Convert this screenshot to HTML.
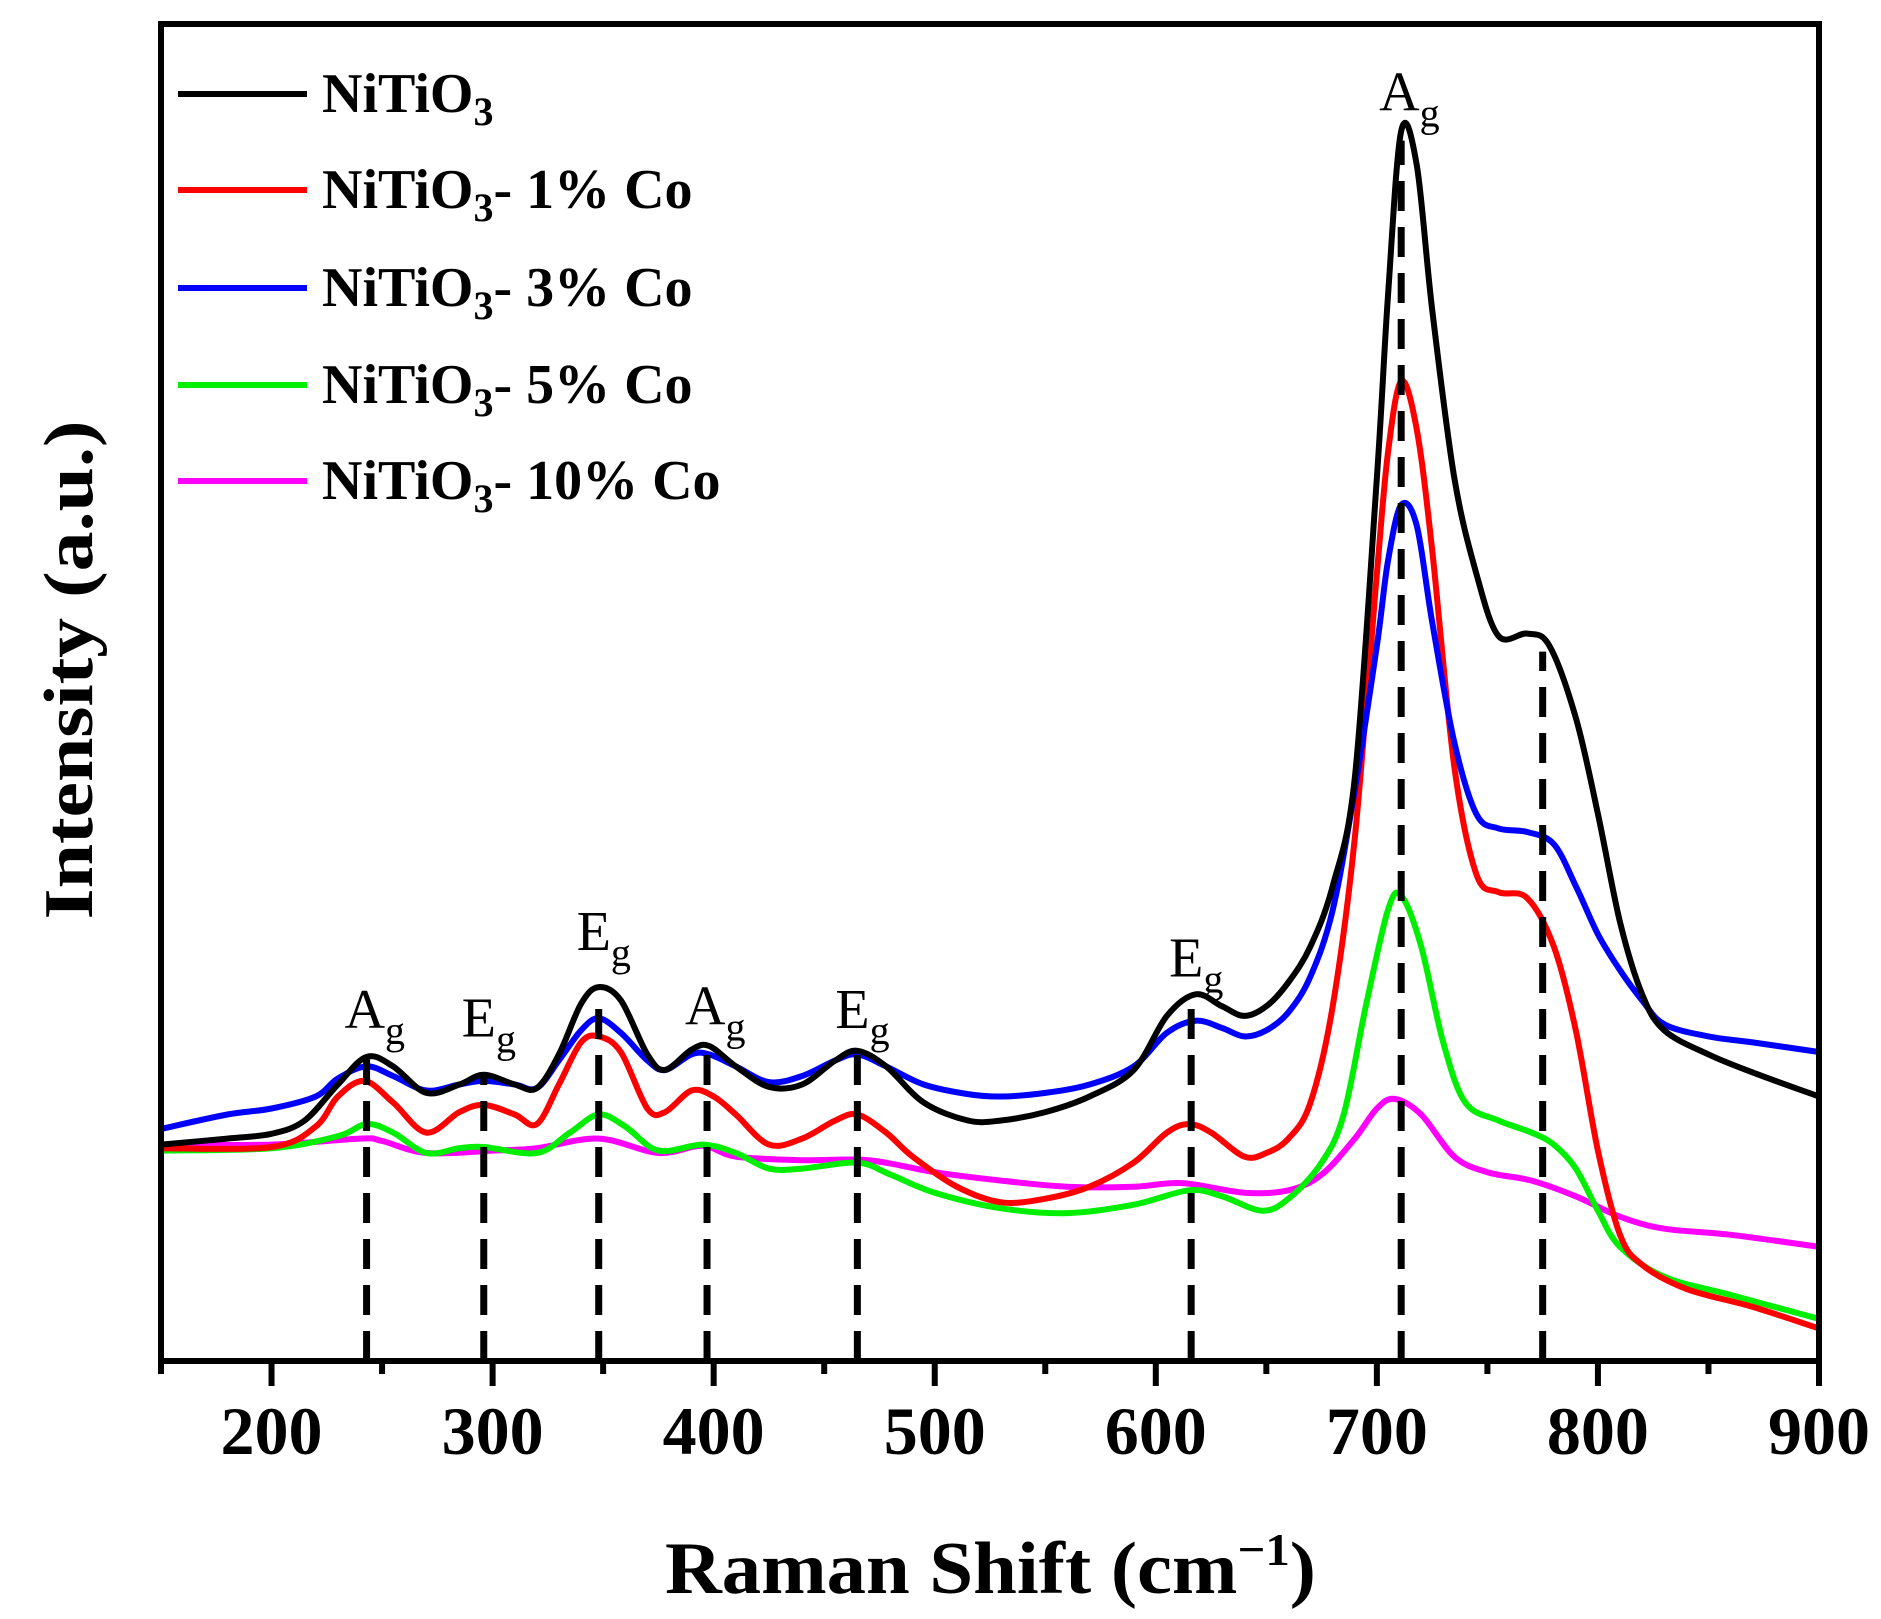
<!DOCTYPE html>
<html><head><meta charset="utf-8"><style>
html,body{margin:0;padding:0;background:#fff}
svg{display:block}
text{font-family:"Liberation Serif",serif}
</style></head><body>
<svg id="chart" width="1881" height="1619" viewBox="0 0 1881 1619" xmlns="http://www.w3.org/2000/svg">
<g id="series"></g>
<g id="dashes"></g>
<g id="axes"></g>
<g id="legend"></g>
</svg>
<script>
const xTicks=[200,300,400,500,600,700,800,900];
const xMinor=[250,350,450,550,650,750,850];
const blackX=[150,180,200,215,230,243,255,270,285,296,310,320,330,340,348,358,370,378,390,398,410,425,440,455,465,478,495,515,530,550,570,590,605,618,630,640,650,660,670,680,690,700,705,711,718,725,735,745,755,768,778,790,800,810,820,830,850,870,900];
const blackY=[180,185,189,200,230,253,245,223,230,238,230,227,255,297,311,300,255,242,259,262,245,228,230,250,258,245,215,200,200,207,220,242,287,305,295,287,295,315,345,395,485,735,885,1023,995,875,735,655,603,605,595,535,455,365,305,275,255,240,220];
const redX=[150,200,220,230,242,255,270,285,296,310,320,330,340,348,358,370,378,390,400,410,425,440,455,465,478,490,510,530,550,570,590,605,615,625,640,650,660,670,680,690,700,705,711,718,725,735,745,755,768,780,790,800,810,820,840,870,900];
const redY=[177,178,195,220,233,215,190,207,213,205,197,230,265,270,257,210,207,225,220,205,180,185,200,205,190,170,145,132,135,145,165,190,197,190,170,173,185,215,295,435,655,755,815,775,675,495,405,390,385,345,275,175,105,80,60,45,27];
const blueX=[150,180,200,220,230,243,255,270,285,296,310,320,330,340,348,358,370,378,390,398,410,425,440,455,465,478,495,515,530,550,570,590,605,618,630,640,650,660,670,680,690,700,705,711,718,725,735,745,755,768,780,790,800,810,820,830,850,870,900];
const blueY=[193,205,210,220,235,245,237,225,230,233,230,227,250,275,285,273,250,242,255,255,245,232,237,250,255,245,230,222,220,223,230,245,273,283,277,270,275,290,320,375,475,595,665,712,695,615,515,455,443,440,430,395,355,325,300,280,270,265,257];
const greenX=[150,200,230,243,255,270,285,296,320,335,348,360,375,395,410,425,440,465,480,500,530,560,590,615,630,648,660,675,685,695,705,711,720,730,740,755,770,780,790,800,810,830,860,900];
const greenY=[175,177,187,197,190,173,177,178,173,190,205,195,175,180,173,160,160,165,155,140,127,123,130,142,137,125,135,165,205,295,375,387,345,265,215,200,190,180,160,125,95,70,55,35];
const magentaX=[150,200,240,250,270,300,320,348,375,395,410,440,470,500,530,560,590,612,640,660,675,690,700,708,720,735,750,770,790,810,830,860,900];
const magentaY=[180,180,185,183,173,175,177,185,173,179,170,167,167,157,150,145,145,148,140,142,155,185,210,218,205,170,157,150,137,120,110,105,95];
const peakPos=[243,296,348,397,465,616,711,775];
const peakTop=[253,240,305,260,255,300,1015,590];
const peakLabels=["A","E","E","A","E","E","A"];
const labelPos=[243,296,348,397,465,616,711];
const labelBase=[277,270,342,280,277,320,1040];
const legendNames=["NiTiO","NiTiO","NiTiO","NiTiO","NiTiO"];
const legendSuffix=["","- 1% Co","- 3% Co","- 5% Co","- 10% Co"];

const NS="http://www.w3.org/2000/svg";
const L=161,R=1819,T=24,B=1361;
function xs(v){return L+(v-150)*(R-L)/750;}
function ys(v){return B-v*(B-T)/1112;}
function mk(tag,attrs,parent){const e=document.createElementNS(NS,tag);for(const k in attrs)e.setAttribute(k,attrs[k]);parent.appendChild(e);return e;}
function smooth(px,py){
  let d="M"+px[0].toFixed(1)+","+py[0].toFixed(1);
  for(let i=0;i<px.length-1;i++){
    const x0=px[Math.max(0,i-1)],y0=py[Math.max(0,i-1)];
    const x1=px[i],y1=py[i],x2=px[i+1],y2=py[i+1];
    const x3=px[Math.min(px.length-1,i+2)],y3=py[Math.min(px.length-1,i+2)];
    const c1x=x1+(x2-x0)/6,c1y=y1+(y2-y0)/6,c2x=x2-(x3-x1)/6,c2y=y2-(y3-y1)/6;
    d+="C"+c1x.toFixed(1)+","+c1y.toFixed(1)+" "+c2x.toFixed(1)+","+c2y.toFixed(1)+" "+x2.toFixed(1)+","+y2.toFixed(1);
  }
  return d;
}

const series=[["nitio3",blackX,blackY,"#000"],["co-1",redX,redY,"#ff0000"],["co-3",blueX,blueY,"#0000ff"],["co-5",greenX,greenY,"#00ee00"],["co-10",magentaX,magentaY,"#ff00ff"]];
const sg=document.getElementById('series');
[4,3,1,2,0].forEach(i=>{
  const s=series[i];
  const d=smooth(s[1].map(xs),s[2].map(ys));
  const p=mk('path',{d:d,fill:"none",stroke:s[3],"stroke-width":6,"stroke-linejoin":"round"},sg);
  
  
});

const dg=document.getElementById('dashes');
peakPos.forEach((p,i)=>{
  const l=mk('line',{x1:xs(p),x2:xs(p),y1:B,y2:ys(peakTop[i]),stroke:"#000","stroke-width":7,"stroke-dasharray":"30 16"},dg);
  
  
});
labelPos.forEach((p,i)=>{
  const t=mk('text',{x:xs(p)-22,y:ys(labelBase[i]),"font-size":56},dg);
  
  
  t.textContent=peakLabels[i];
  const s=mk('tspan',{"font-size":40,dy:16},t);s.textContent="g";
});

const ag=document.getElementById('axes');
const frame=mk('rect',{x:L,y:T,width:R-L,height:B-T,fill:"none",stroke:"#000","stroke-width":6},ag);


xTicks.forEach(v=>{
  const t=mk('line',{x1:xs(v),x2:xs(v),y1:B,y2:B+25,stroke:"#000","stroke-width":6},ag);
  
  
  const lb=mk('text',{x:xs(v),y:1454,"font-size":68,"font-weight":"bold","text-anchor":"middle"},ag);
  
  
  lb.textContent=v;
});
xMinor.concat([150]).forEach(v=>{
  const t=mk('line',{x1:xs(v),x2:xs(v),y1:B,y2:B+13,stroke:"#000","stroke-width":6},ag);
  
  
});
const xt=mk('text',{x:665,y:1593,"font-size":74,"font-weight":"bold",textLength:651,lengthAdjust:"spacingAndGlyphs"},ag);


xt.textContent="Raman Shift (cm";
const sup=mk('tspan',{"font-size":46,dy:-28},xt);sup.textContent="−1";
const cl=mk('tspan',{dy:28},xt);cl.textContent=")";
const yt=mk('text',{x:0,y:0,"font-size":70,"font-weight":"bold","text-anchor":"middle",transform:"translate(92,670) rotate(-90)",textLength:499,lengthAdjust:"spacingAndGlyphs"},ag);


yt.textContent="Intensity (a.u.)";

const lg=document.getElementById('legend');
const legY=[94,190,288,385,481];
series.forEach((s,i)=>{
  const g=mk('g',{},lg);
  
  
  mk('line',{x1:178,x2:307,y1:legY[i],y2:legY[i],stroke:s[3],"stroke-width":6},g);
  const t=mk('text',{x:322,y:legY[i]+18,"font-size":56,"font-weight":"bold"},g);
  t.textContent=legendNames[i];
  const sb=mk('tspan',{"font-size":40,dy:13},t);sb.textContent="3";
  if(legendSuffix[i]){const r=mk('tspan',{dy:-13},t);r.textContent=legendSuffix[i];}
});
</script>
</body></html>
